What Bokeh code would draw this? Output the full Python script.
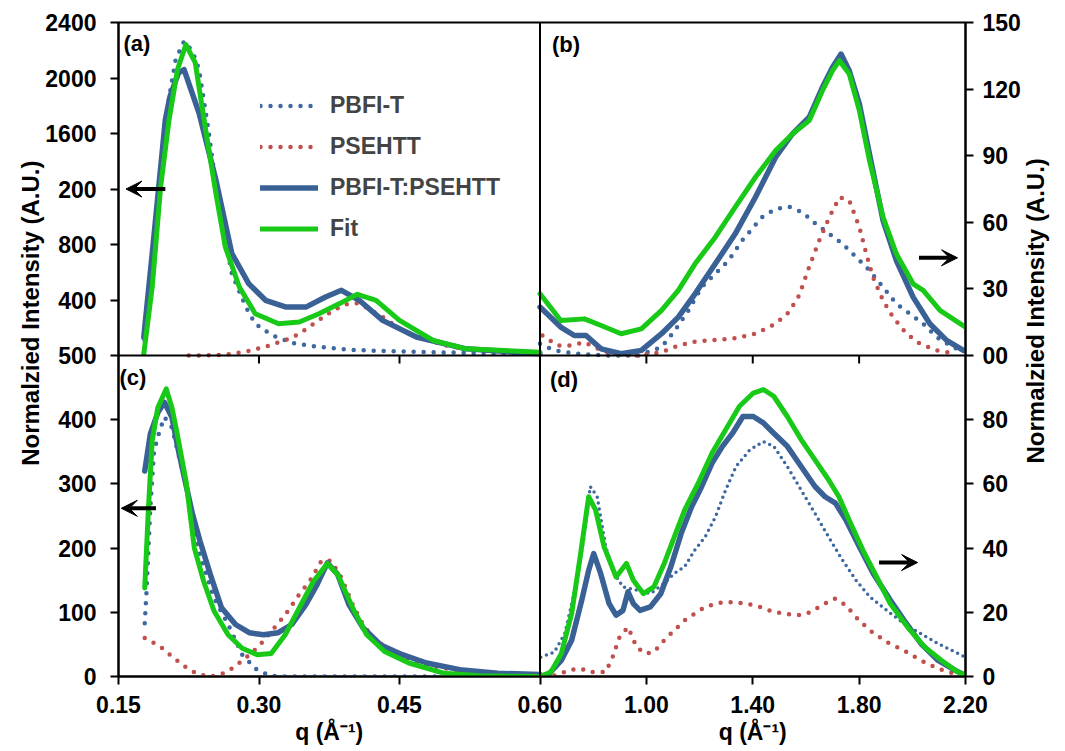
import math
from bokeh.plotting import figure
from bokeh.models import (Range1d, LinearAxis, FixedTicker, CustomJSTickFormatter, Span,
                          Arrow, VeeHead, Label, Legend, LegendItem, Grid)
from bokeh.embed import file_html
from bokeh.resources import INLINE

# ---------------- data ----------------
# panel (a): small-q, PBFI-T / PSEHTT / blend / fit
a_blend_q = [0.177,0.186,0.200,0.205,0.214,0.220,0.236,0.254,0.271,0.289,0.307,0.329,0.350,0.371,0.388,0.407,0.432,0.468,0.521,0.600]
a_blend_I = [133,735,1699,1868,2036,2061,1747,1265,735,518,398,349,349,422,470,398,253,133,48,12]
a_fit_q = [0.177,0.186,0.195,0.204,0.213,0.222,0.232,0.243,0.254,0.264,0.279,0.296,0.321,0.343,0.364,0.386,0.405,0.425,0.450,0.486,0.521,0.600]
a_fit_I = [12,494,1217,1699,2061,2241,2109,1627,1169,783,494,301,229,241,301,374,441,398,253,108,48,24]
a_pb_q = [0.177,0.188,0.200,0.211,0.220,0.229,0.236,0.246,0.257,0.271,0.286,0.296,0.314,0.336,0.361,0.396,0.450,0.521,0.600]
a_pb_I = [120,735,1699,2133,2265,2193,2061,1627,1072,590,349,229,145,89,65,41,29,19,12]
a_ps_q = [0.225,0.255,0.271,0.290,0.311,0.332,0.343,0.361,0.379,0.393,0.404,0.414,0.432,0.450,0.468,0.504,0.539,0.600]
a_ps_I = [0,2,12,34,72,120,157,241,325,369,378,349,277,193,133,65,36,17]

# panel (b): large-q
b_blend_q = [0.600,0.678,0.729,0.773,0.830,0.905,0.981,1.057,1.120,1.183,1.259,1.334,1.410,1.486,1.549,1.612,1.662,1.700,1.732,1.763,1.801,1.839,1.890,1.940,2.003,2.066,2.129,2.192]
b_blend_I = [21.8,12.8,9.0,9.0,3.0,0.8,2.3,9.8,17.3,27.8,41.3,54.8,71.3,89.3,99.8,107.3,120.8,129.8,135.8,128.3,113.3,90.8,60.8,42.8,26.3,14.3,6.8,2.3]
b_fit_q = [0.600,0.678,0.767,0.830,0.905,0.981,1.057,1.120,1.183,1.259,1.334,1.410,1.486,1.549,1.612,1.662,1.700,1.726,1.763,1.801,1.839,1.890,1.940,2.003,2.041,2.104,2.200]
b_fit_I = [27.8,15.8,16.5,13.5,9.8,12.0,20.3,29.3,41.3,53.3,66.8,80.3,92.3,99.8,105.8,119.3,128.3,132.8,126.8,110.3,87.8,62.3,45.8,32.3,29.3,20.3,12.8]
b_pb_q = [0.600,0.653,0.741,0.842,0.968,1.057,1.107,1.158,1.208,1.259,1.309,1.360,1.435,1.486,1.536,1.587,1.637,1.688,1.738,1.789,1.839,1.890,1.940,1.991,2.041,2.091,2.142,2.192]
b_pb_I = [5.3,2.3,0.8,0,0,3.8,11.3,20.3,30.8,36.8,42.8,51.8,62.3,66.0,67.0,64.5,59.3,54.8,50.3,44.3,38.3,30.8,23.3,18.8,14.3,8.3,4.5,1.5]
b_ps_q = [0.609,0.666,0.716,0.767,0.804,0.868,0.968,1.057,1.120,1.183,1.259,1.334,1.410,1.486,1.536,1.574,1.612,1.650,1.688,1.726,1.763,1.801,1.827,1.852,1.890,1.927,1.978,2.028,2.091,2.167]
b_ps_I = [9.0,4.5,4.5,6.0,3.8,0.8,0,1.5,4.5,6.3,7.0,7.8,9.8,14.3,19.5,27.0,39.8,51.8,62.3,71.3,69.8,57.8,45.8,35.3,24.8,17.3,9.8,5.3,2.3,0.8]

# panel (c): small-q, second sample
c_blend_q = [0.178,0.184,0.192,0.199,0.207,0.214,0.222,0.229,0.237,0.248,0.260,0.275,0.290,0.305,0.320,0.335,0.350,0.362,0.373,0.384,0.396,0.411,0.430,0.453,0.479,0.517,0.555,0.600]
c_blend_I = [320,378,411,427,404,352,299,253,211,159,107,81,68,65,68,81,112,143,177,159,112,76,49,34,21,10,5,3]
c_fit_q = [0.178,0.182,0.186,0.192,0.201,0.207,0.212,0.222,0.231,0.241,0.252,0.267,0.282,0.298,0.313,0.328,0.343,0.358,0.373,0.384,0.400,0.415,0.434,0.460,0.498,0.536,0.600]
c_fit_I = [138,263,367,419,448,419,383,305,200,148,102,65,44,34,36,65,107,148,176,159,107,65,39,21,5,1,0]
c_pb_q = [0.178,0.180,0.184,0.188,0.194,0.199,0.207,0.214,0.222,0.229,0.237,0.252,0.267,0.282,0.298,0.313,0.328,0.400,0.450,0.600]
c_pb_I = [83,135,263,352,383,404,388,346,299,242,190,122,81,34,10,1,0,0,0,0]
c_ps_q = [0.178,0.188,0.199,0.207,0.216,0.226,0.237,0.248,0.258,0.267,0.279,0.290,0.301,0.313,0.328,0.343,0.354,0.367,0.377,0.388,0.400,0.411,0.422,0.434,0.453,0.479,0.517,0.555,0.600]
c_ps_I = [60,52,42,31,21,10,3,0,3,8,21,34,49,70,96,128,148,181,180,154,112,81,60,47,31,18,8,3,0]

# panel (d): large-q, second sample
d_blend_q = [0.628,0.680,0.719,0.757,0.783,0.802,0.828,0.860,0.886,0.912,0.931,0.951,0.976,1.015,1.054,1.092,1.131,1.170,1.208,1.247,1.286,1.324,1.363,1.402,1.440,1.479,1.530,1.582,1.634,1.672,1.711,1.750,1.801,1.853,1.917,1.969,2.033,2.097,2.162,2.200]
d_blend_I = [0.3,5.0,11.3,23.8,33.1,38.3,32.1,22.7,19.1,20.6,26.4,22.7,20.6,21.7,25.8,34.2,44.6,52.9,59.2,66.5,71.7,75.8,81.0,81.0,79.0,75.8,71.7,65.4,59.2,56.0,54.0,48.8,40.4,32.1,23.8,17.5,10.2,5.0,1.9,0.3]
d_fit_q = [0.600,0.641,0.680,0.719,0.751,0.783,0.809,0.841,0.886,0.925,0.951,0.989,1.028,1.067,1.105,1.144,1.195,1.247,1.298,1.350,1.402,1.440,1.479,1.530,1.582,1.634,1.685,1.724,1.762,1.814,1.866,1.917,1.982,2.046,2.110,2.162,2.200]
d_fit_I = [0,1.4,7.1,19.6,37.3,56.0,51.9,40.4,31.0,35.2,30.0,25.8,27.9,35.2,43.5,51.9,60.2,69.6,76.9,84.2,88.3,89.4,87.3,81.0,73.8,67.5,61.3,56.0,48.8,39.4,31.0,22.7,15.4,9.2,5.0,1.9,0.3]
d_pb_q = [0.603,0.654,0.693,0.731,0.764,0.789,0.815,0.847,0.880,0.912,0.963,1.015,1.067,1.105,1.144,1.182,1.221,1.260,1.298,1.337,1.389,1.440,1.479,1.530,1.582,1.634,1.685,1.737,1.788,1.840,1.904,1.969,2.033,2.097,2.162,2.200]
d_pb_I = [6.0,7.6,13.3,26.9,42.5,59.2,56.0,40.4,32.1,27.9,26.9,25.8,29.0,32.1,34.2,39.4,43.5,49.8,58.1,65.4,70.6,73.2,71.7,65.4,58.1,50.8,43.5,36.3,30.0,24.8,20.6,16.5,13.3,10.2,7.6,6.0]
d_ps_q = [0.654,0.719,0.757,0.783,0.847,0.873,0.899,0.931,0.963,0.996,1.028,1.067,1.105,1.144,1.182,1.221,1.273,1.324,1.376,1.427,1.479,1.530,1.582,1.621,1.659,1.711,1.750,1.788,1.840,1.904,1.969,2.033,2.097,2.162]
d_ps_I = [0.3,2.1,2.4,1.4,1.4,6.0,12.3,15.4,9.2,7.1,7.6,11.3,14.4,17.5,19.6,21.7,22.9,23.2,22.7,21.7,20.1,19.4,19.1,20.1,22.2,24.3,22.2,18.5,14.4,10.7,8.1,5.0,2.4,0.8]

# axis ticks and labels (as printed on the chart)
q_ticks_left = [0.15, 0.30, 0.45, 0.60]
q_labels_left = ["0.15", "0.30", "0.45", "0.60"]
q_ticks_right = [1.00, 1.40, 1.80, 2.20]
q_labels_right = ["1.00", "1.40", "1.80", "2.20"]
a_ticks = [400, 800, 1200, 1600, 2000, 2400]
a_labels = ["400", "800", "200", "1600", "2000", "2400"]
c_ticks = [0, 100, 200, 300, 400, 500]
c_labels = ["0", "100", "200", "300", "400", "500"]
b_ticks = [30, 60, 90, 120, 150]
b_labels = ["30", "60", "90", "120", "150"]
d_ticks = [0, 20, 40, 60, 80, 100]
d_labels = ["0", "20", "40", "60", "80", "00"]

series_names = ["PBFI-T", "PSEHTT", "PBFI-T:PSEHTT", "Fit"]
y_title = "Normalzied Intensity (A.U.)"
x_title = "q (Å\u207b\u00b9)"

# ---------------- layout ----------------
W, H = 1065, 751
BL, BR, BT, BB = 118, 97, 22, 75
FW, FH = W - BL - BR, H - BT - BB        # frame 850 x 654
LW = 423; RW = FW - LW                   # left / right panel widths
TH = 333; BH = FH - TH                   # top / bottom panel heights

QL0, QL1 = 0.15, 0.60
QR0, QR1 = 0.60, 2.20
AMAX, BMAX, CMAX, DMAX = 2400, 150, 500, 100

x_left = Range1d(QL0, QL0 + (QL1 - QL0) * FW / LW)
x_right = Range1d(QR1 - (QR1 - QR0) * FW / RW, QR1)
y_c = Range1d(0, CMAX * FH / BH)
y_d = Range1d(0, DMAX * FH / BH)
y_a = Range1d(-AMAX * BH / TH, AMAX)
y_b = Range1d(-BMAX * BH / TH, BMAX)

FONT = "Liberation Sans"
C_BLUE = "#3A6195"
C_BLUE_DOT = "#3D68A0"
C_RED = "#C0504D"
C_GREEN = "#18C918"

p = figure(width=W, height=H, x_range=x_left, y_range=y_c, output_backend="svg",
           toolbar_location=None, x_axis_location=None, y_axis_location=None, title=None)
p.extra_x_ranges = {"right": x_right}
p.extra_y_ranges = {"a": y_a, "b": y_b, "d": y_d}
p.min_border_left, p.min_border_right = BL, BR
p.min_border_top, p.min_border_bottom = BT, BB
p.outline_line_color = "black"
p.outline_line_width = 2
p.background_fill_color = "white"
p.border_fill_color = "white"
p.center = [r for r in p.center if not isinstance(r, Grid)]

JS = """
let bi = 0, bd = Infinity;
for (let i = 0; i < pos.length; i++) { const d = Math.abs(pos[i] - tick); if (d < bd) { bd = d; bi = i; } }
return lab[bi];
"""

def make_axis(pos, lab, size="23px", **kw):
    ax = LinearAxis(ticker=FixedTicker(ticks=pos),
                    formatter=CustomJSTickFormatter(args=dict(pos=pos, lab=lab), code=JS), **kw)
    ax.axis_line_width = 2
    ax.axis_line_color = "black"
    ax.major_tick_line_width = 2
    ax.major_tick_out = 8
    ax.major_tick_in = 0
    ax.minor_tick_line_color = None
    ax.major_label_text_font = FONT
    ax.major_label_text_font_style = "bold"
    ax.major_label_text_font_size = size
    ax.major_label_text_color = "black"
    return ax

def title_axis(ax, standoff):
    ax.axis_line_color = None
    ax.major_tick_line_color = None
    ax.major_tick_out = 0
    ax.major_label_standoff = standoff
    return ax

def px_to_c(py):   # canvas y (px) -> panel (c) units, for placing the rotated titles
    return (BT + FH - py) * CMAX / BH

def px_to_d(py):
    return (BT + FH - py) * DMAX / BH

# bottom axis: left-panel q ticks plus right-panel q ticks expressed in left units
scale_lr = ((QL1 - QL0) / LW) / ((QR1 - QR0) / RW)
xb_pos = list(q_ticks_left) + [QR0 + (v - QR0) * scale_lr for v in q_ticks_right]
xb_lab = list(q_labels_left) + list(q_labels_right)
xax = make_axis(xb_pos, xb_lab)
xax.major_label_standoff = 11
p.add_layout(xax, "below")
# x titles, one under each column of panels
xt_pos = [(QL0 + QL1) / 2, QR0 + ((QR0 + QR1) / 2 - QR0) * scale_lr]
p.add_layout(title_axis(make_axis(xt_pos, [x_title, x_title], "23px"), 3), "below")

# left axis: panel (c) ticks plus panel (a) ticks in (c) units
yl_pos = list(c_ticks) + [(BH + v * TH / AMAX) * CMAX / BH for v in a_ticks]
yl_lab = list(c_labels) + list(a_labels)
yl = make_axis(yl_pos, yl_lab)
yl.major_label_standoff = 14
p.add_layout(yl, "left")
ylt = title_axis(make_axis([px_to_c(160)], [y_title], "24px"), 12)
ylt.major_label_orientation = math.pi / 2
p.add_layout(ylt, "left")

# right axis: panel (d) ticks plus panel (b) ticks in (d) units
yr_pos = list(d_ticks) + [(BH + v * TH / BMAX) * DMAX / BH for v in b_ticks]
yr_lab = list(d_labels) + list(b_labels)
yr = make_axis(yr_pos, yr_lab, y_range_name="d")
yr.major_label_standoff = 9
p.add_layout(yr, "right")
yrt = title_axis(make_axis([px_to_d(463)], [y_title], "24px", y_range_name="d"), 12)
yrt.major_label_orientation = math.pi / 2
p.add_layout(yrt, "right")

# dividers between panels
p.add_layout(Span(location=CMAX, dimension="width", line_color="black", line_width=2))
p.add_layout(Span(location=QL1, dimension="height", line_color="black", line_width=2))
# tick marks of the upper panels' q axes on the divider
p.ray(x=q_ticks_left[1:3], y=[0] * 2, length=8, angle=-math.pi / 2, length_units="screen",
      y_range_name="a", line_color="black", line_width=2)
p.ray(x=q_ticks_right[:3], y=[0] * 3, length=8, angle=-math.pi / 2, length_units="screen",
      x_range_name="right", y_range_name="b", line_color="black", line_width=2)

DOT = dict(line_width=4.5, line_dash="0 10", line_cap="round")
DOT_DENSE = dict(line_width=3.5, line_dash="0 6", line_cap="round")
SOL = dict(line_join="round", line_cap="round")

def panel(qs, xr, yr_name, pb_style=DOT):
    (pq, pI), (sq, sI), (bq, bI), (fq, fI) = qs
    kw = dict(y_range_name=yr_name)
    if xr:
        kw["x_range_name"] = xr
    r1 = p.line(pq, pI, line_color=C_BLUE_DOT, **pb_style, **kw)
    r2 = p.line(sq, sI, line_color=C_RED, **DOT, **kw)
    r3 = p.line(bq, bI, line_color=C_BLUE, line_width=5.5, **SOL, **kw)
    r4 = p.line(fq, fI, line_color=C_GREEN, line_width=5, **SOL, **kw)
    return [r1, r2, r3, r4]

ra = panel([(a_pb_q, a_pb_I), (a_ps_q, a_ps_I), (a_blend_q, a_blend_I), (a_fit_q, a_fit_I)], None, "a")
panel([(b_pb_q, b_pb_I), (b_ps_q, b_ps_I), (b_blend_q, b_blend_I), (b_fit_q, b_fit_I)], "right", "b")
panel([(c_pb_q, c_pb_I), (c_ps_q, c_ps_I), (c_blend_q, c_blend_I), (c_fit_q, c_fit_I)], None, "default")
panel([(d_pb_q, d_pb_I), (d_ps_q, d_ps_I), (d_blend_q, d_blend_I), (d_fit_q, d_fit_I)], "right", "d",
      pb_style=DOT_DENSE)

legend = Legend(items=[LegendItem(label=n, renderers=[r]) for n, r in zip(series_names, ra)],
                location=(142, 434), glyph_width=58, glyph_height=25, label_height=25,
                spacing=14, label_standoff=12, padding=0, margin=0,
                border_line_alpha=0, background_fill_alpha=0,
                label_text_font=FONT, label_text_font_style="bold", label_text_font_size="23px")
p.add_layout(legend)

# arrows pointing to the relevant axis
AH = dict(line_width=4, line_color="black")
def head():
    return VeeHead(size=16, fill_color="black", line_color="black")
p.add_layout(Arrow(end=head(), x_start=0.200, y_start=1200, x_end=0.158, y_end=1200, y_range_name="a", **AH))
p.add_layout(Arrow(end=head(), x_start=0.190, y_start=262, x_end=0.153, y_end=262, **AH))
p.add_layout(Arrow(end=head(), x_start=2.025, y_start=44, x_end=2.170, y_end=44,
                   x_range_name="right", y_range_name="b", **AH))
p.add_layout(Arrow(end=head(), x_start=1.875, y_start=35.5, x_end=2.020, y_end=35.5,
                   x_range_name="right", y_range_name="d", **AH))

TXT = dict(text_font=FONT, text_font_style="bold", text_color="black", text_font_size="22px",
           text_baseline="top")
p.add_layout(Label(x=QL0, y=AMAX, x_offset=5, y_offset=-8, text="(a)", y_range_name="a", **TXT))
p.add_layout(Label(x=QR0, y=BMAX, x_offset=12, y_offset=-9, text="(b)",
                   x_range_name="right", y_range_name="b", **TXT))
p.add_layout(Label(x=QL0, y=CMAX, x_offset=1, y_offset=-9, text="(c)", **TXT))
p.add_layout(Label(x=QR0, y=DMAX, x_offset=10, y_offset=-11, text="(d)",
                   x_range_name="right", y_range_name="d", **TXT))

open("out.html", "w").write(file_html(p, INLINE))
